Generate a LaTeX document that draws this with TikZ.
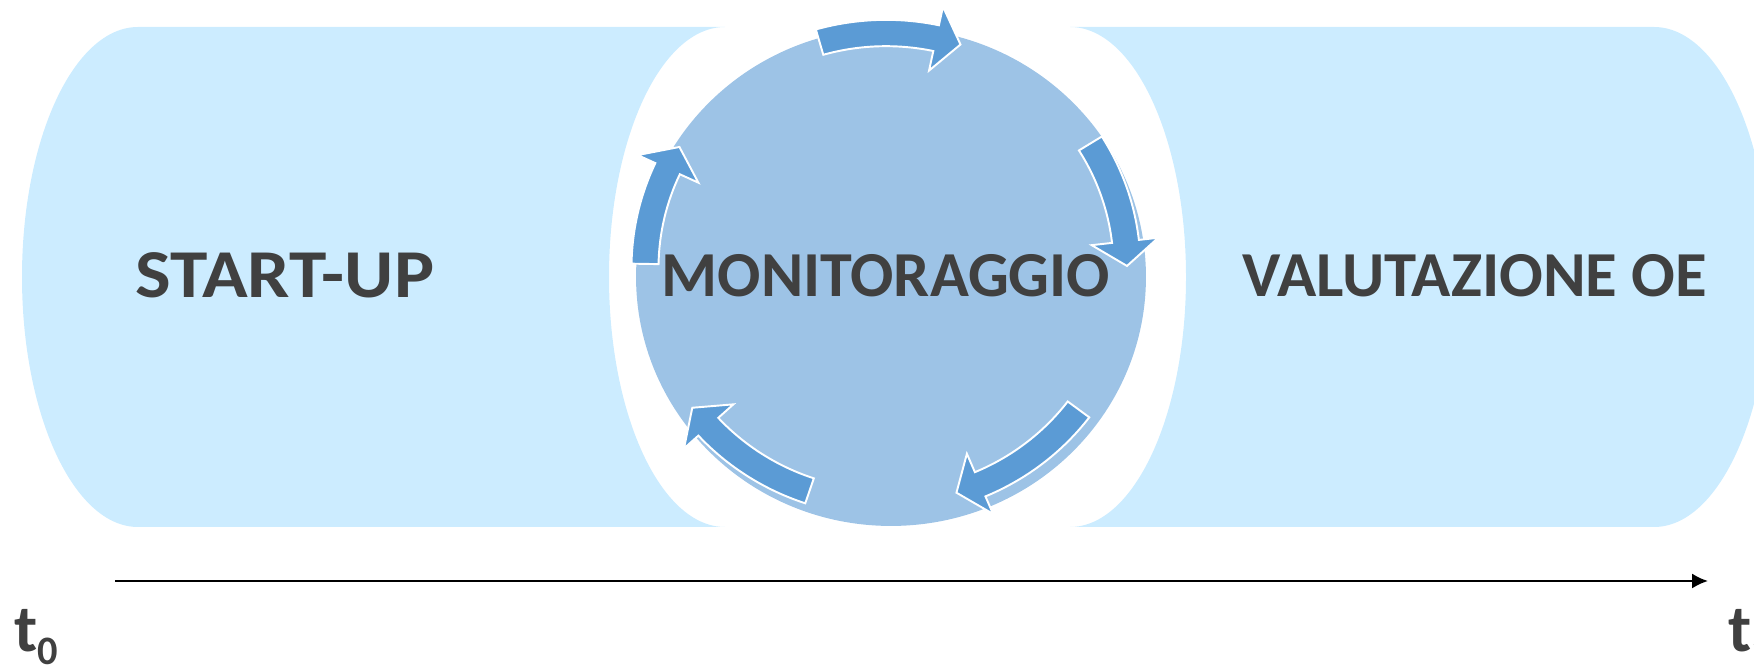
\documentclass[tikz,border=0pt]{standalone}
\usepackage{fontspec}
\setmainfont{Carlito}
\usetikzlibrary{arrows.meta, shapes.geometric}
\definecolor {bandblue}{RGB}{204,236,255}
\definecolor {circleblue}{RGB}{157,195,230}
\definecolor {arrowblue}{RGB}{91,155,213}
\definecolor {textgray}{RGB}{64,64,64}

\begin{document}
\begin{tikzpicture}[x = 0.02cm, y = 0.02cm,
            phase/.style ={ text = textgray, inner sep = 0pt },
            band/.style ={ fill = bandblue },
            cycle/.style ={ ellipse, fill = circleblue, minimum width = 10.2cm, minimum height = 9.96cm, inner sep = 0pt },
            cyclearrow/.style ={ fill = arrowblue, draw = white, line width = 1.1pt },
            tlabel/.style ={ text = textgray, font = \fontsize{38}{38}\selectfont\bfseries, inner sep = 0pt }]

        \useasboundingbox (0, 0) rectangle (1754, 669);

        %bande delle fasi
        \path[band] (138, 642) -- (725, 642) arc [start angle = 90, end angle = 270, x radius = 116, y radius = 250]
            -- (138, 142) arc [start angle = 270, end angle = 90, x radius = 116, y radius = 250] -- cycle;
        \path[band] (1070, 642) -- (1654, 642) arc [start angle = 90, end angle = -90, x radius = 116, y radius = 250]
            -- (1070, 142) arc [start angle = -90, end angle = 90, x radius = 116, y radius = 250] -- cycle;

        \node[cycle] (monit) at (891, 392) {};
        \node[phase, font = \fontsize{39}{39}\selectfont\bfseries] (startup) at (285, 393.5) {\scalebox{1.1}[1]{START-UP}};
        \node[phase, font = \fontsize{36.5}{36.5}\selectfont\bfseries] (monittext) at (886, 393.5) {MONITORAGGIO};
        \node[phase, font = \fontsize{36.5}{36.5}\selectfont\bfseries] (valut) at (1475, 393.5) {\scalebox{1.01}[1]{VALUTAZIONE OE}};

        %frecce del ciclo
        \begin{scope}[shift = {(886, 401)}, yscale = 0.975]
            \draw[cyclearrow] (106:254.5) arc [start angle = 106, end angle = 78, radius = 254.5] -- (78:274) -- (72:241) -- (78:207) -- (78:227.5) arc [start angle = 78, end angle = 106, radius = 227.5] -- cycle;
            \draw[cyclearrow] (32:254.5) arc [start angle = 32, end angle = 6.5, radius = 254.5] -- (6.5:274) -- (0.5:241) -- (6.5:207) -- (6.5:227.5) arc [start angle = 6.5, end angle = 32, radius = 227.5] -- cycle;
            \draw[cyclearrow] (-37:254.5) arc [start angle = -37, end angle = -67, radius = 254.5] -- (-67:274) -- (-73:241) -- (-67:207) -- (-67:227.5) arc [start angle = -67, end angle = -37, radius = 227.5] -- cycle;
            \draw[cyclearrow] (-108.5:254.5) arc [start angle = -108.5, end angle = -137.5, radius = 254.5] -- (-137.5:274) -- (-143.5:241) -- (-137.5:207) -- (-137.5:227.5) arc [start angle = -137.5, end angle = -108.5, radius = 227.5] -- cycle;
            \draw[cyclearrow] (179:254.5) arc [start angle = 179, end angle = 155, radius = 254.5] -- (155:274) -- (149:241) -- (155:207) -- (155:227.5) arc [start angle = 155, end angle = 179, radius = 227.5] -- cycle;
        \end{scope}

        %asse dei tempi
        \coordinate (tstart) at (115, 88);
        \coordinate (tend) at (1708, 88);
        \draw[-{Latex[length = 9pt, width = 8.5pt]}, line width = 1.3pt] (tstart) -- (tend);

        \node[tlabel, anchor = base west] (t0) at (14, 17) {t\raisebox{-7pt}{\fontsize{23}{23}\selectfont 0}};
        \node[tlabel, anchor = base west] (t1) at (1728, 17) {t\raisebox{-7pt}{\fontsize{23}{23}\selectfont 1}};
\end{tikzpicture}
\end{document}
